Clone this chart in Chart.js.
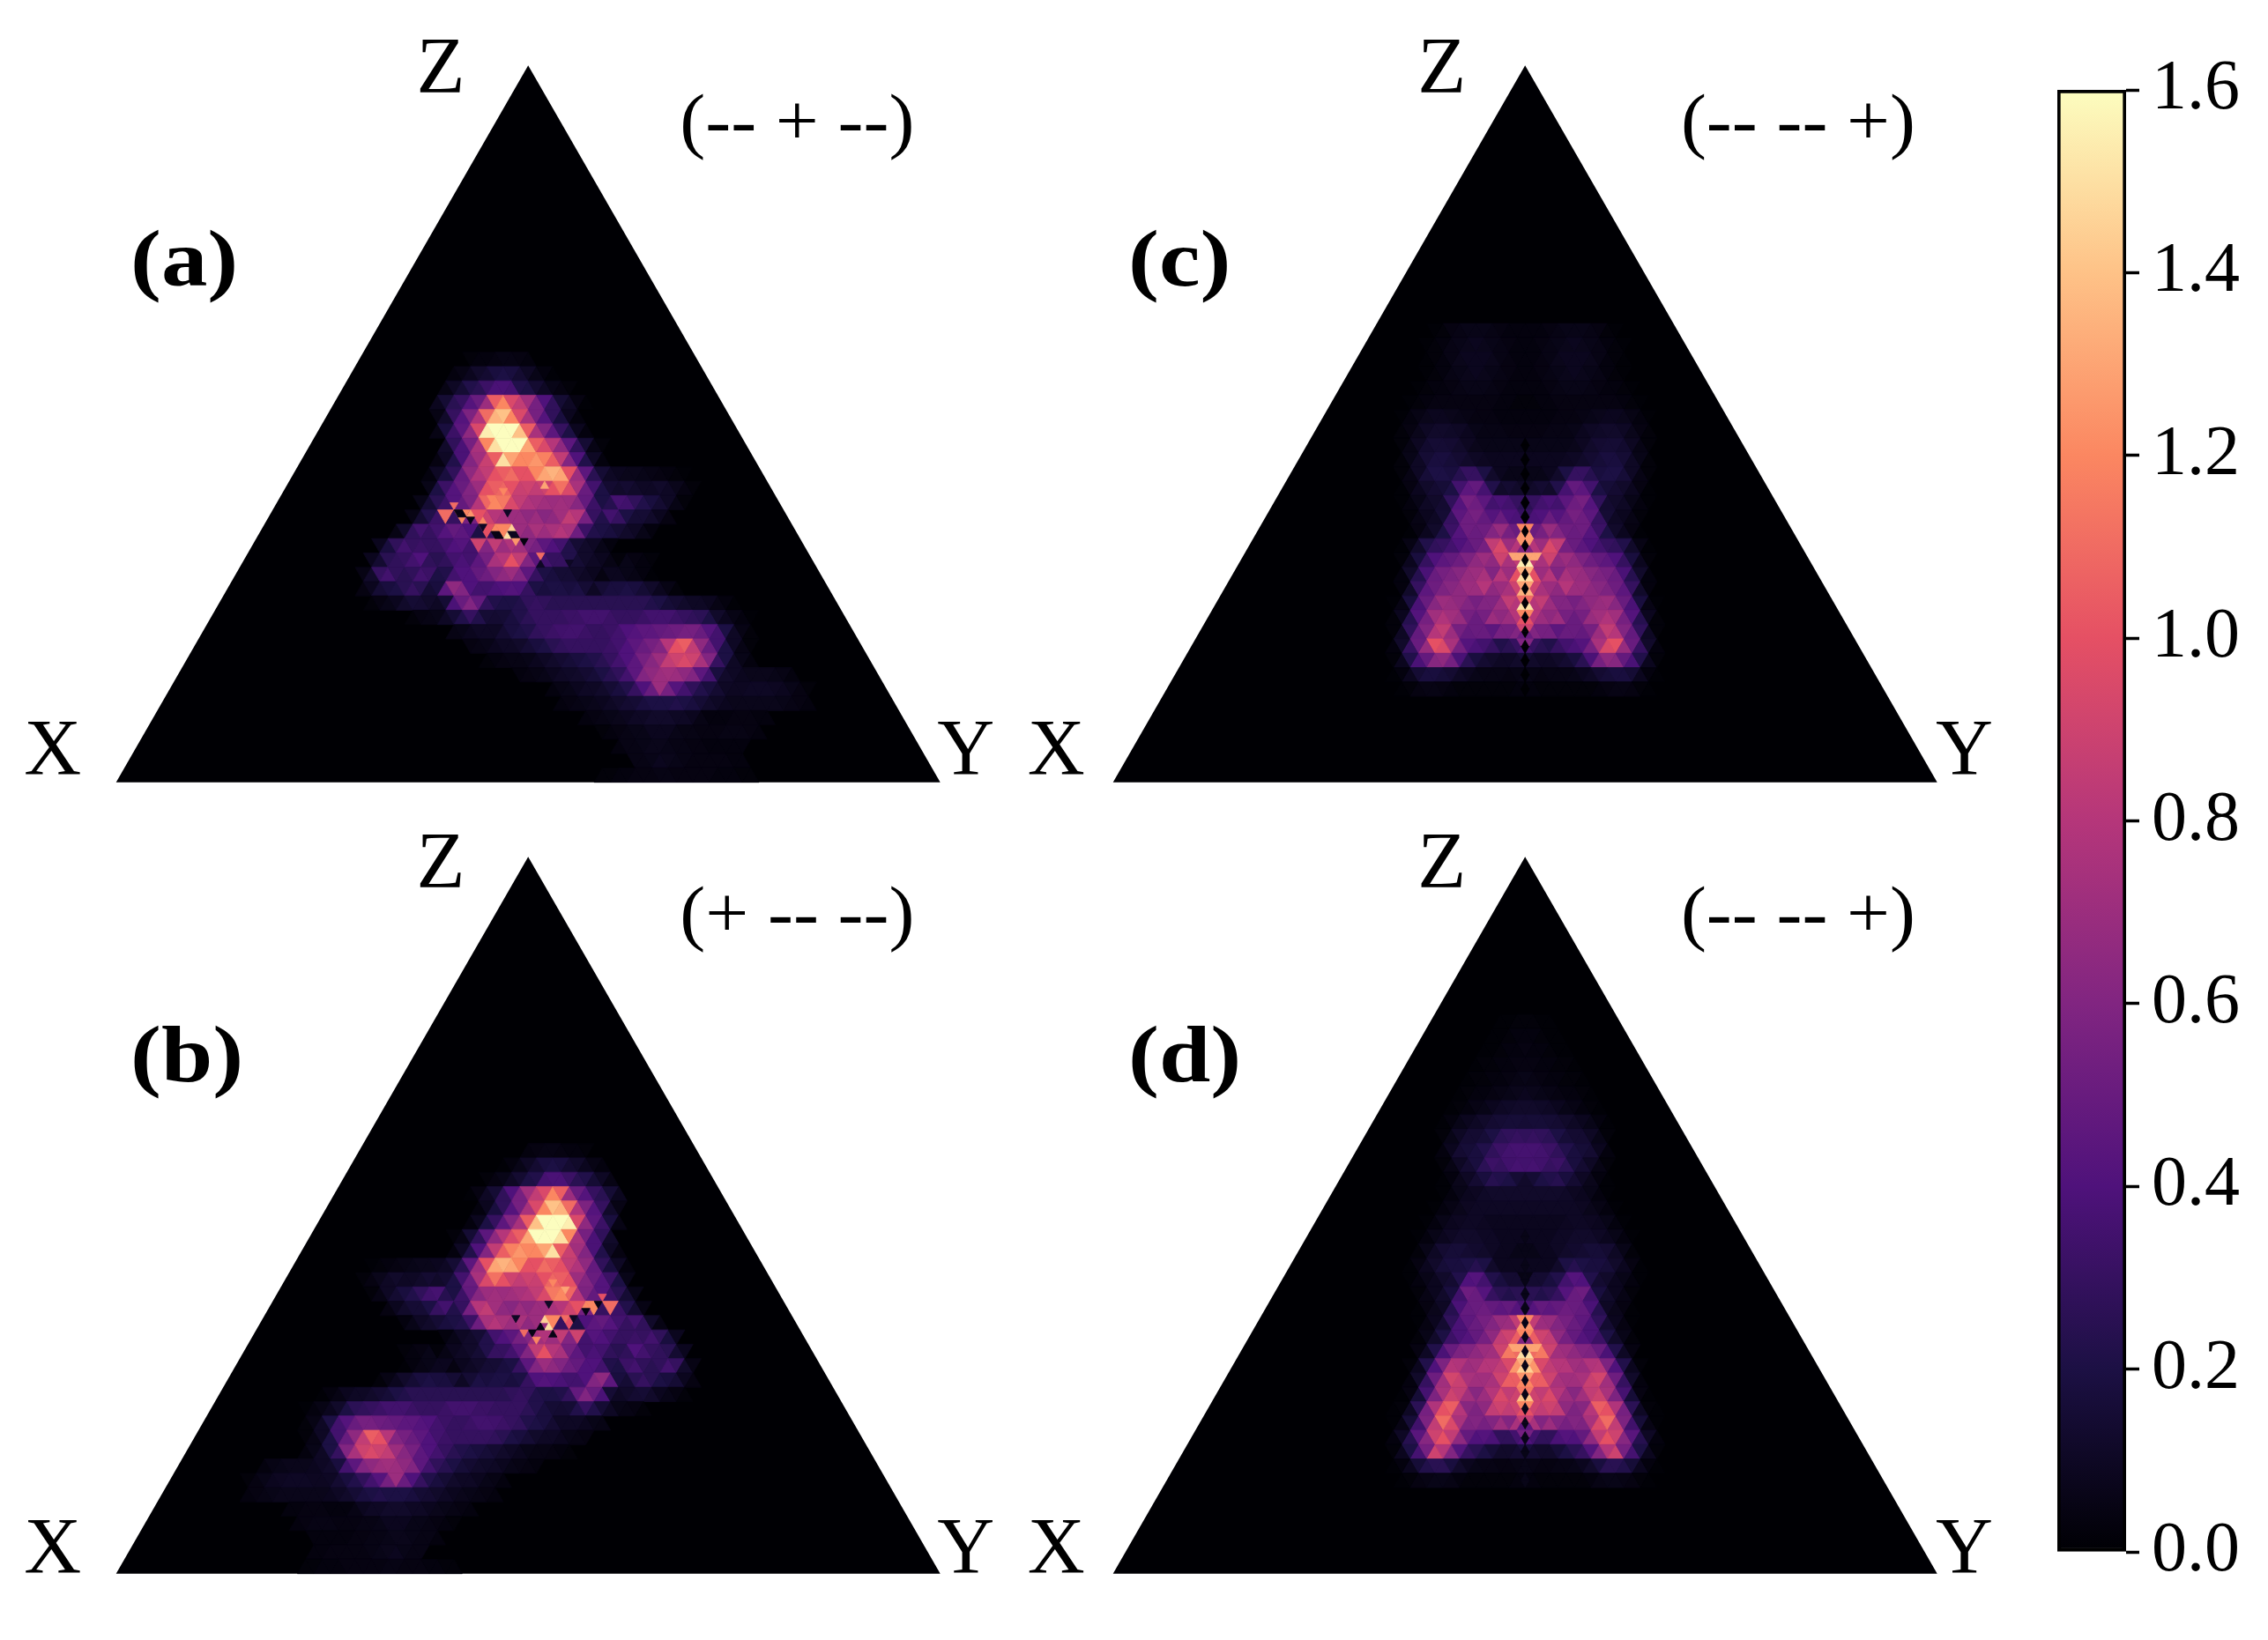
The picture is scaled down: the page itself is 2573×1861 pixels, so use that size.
<!DOCTYPE html>
<html>
<head>
<meta charset="utf-8">
<title>Ternary maps</title>
<script src="https://cdn.jsdelivr.net/npm/chart.js@4"></script>
<style>
html, body { margin: 0; padding: 0; background: #fff; }
body { position: relative; width: 2573px; height: 1861px; overflow: hidden; }
canvas { position: absolute; }
</style>
</head>
<body>
<canvas id="panelA" style="left:0;top:0" width="1180" height="960"></canvas>
<canvas id="panelB" style="left:0;top:898px" width="1180" height="960"></canvas>
<canvas id="panelC" style="left:1131px;top:0" width="1180" height="960"></canvas>
<canvas id="panelD" style="left:1131px;top:898px" width="1180" height="960"></canvas>
<canvas id="colorbar" style="left:2300px;top:0" width="273" height="1861"></canvas>
<script>
// values are in hundredths. a row is [row, first column, values]
// coarse grid has 50 rows, row r has columns -r..r
const rowsA = [
[20,-7,[2,3,3,4,5,5,4,3]],
[21,-9,[3,5,8,12,14,18,20,18,14,10,6,3,1]],
[22,-10,[5,10,15,22,25,32,38,38,36,22,20,14,10,6,4,2]],
[23,-11,[8,15,25,30,42,50,70,105,120,95,85,72,55,40,28,15,10,4,1]],
[24,-11,[5,12,30,42,58,78,110,135,140,120,95,75,55,42,28,18,8,3]],
[25,-11,[5,18,32,45,65,95,155,160,160,160,140,105,75,60,45,30,20,8,3]],
[26,-10,[12,28,38,55,75,120,150,160,160,160,130,105,95,80,65,45,28,15,5,2]],
[27,-11,[4,10,22,38,60,72,88,105,150,130,120,120,125,118,105,85,60,40,22,10,3]],
[28,-12,[3,10,18,28,48,65,78,85,100,105,110,100,100,120,130,135,130,100,70,45,25,15,10,8,7,7,6,5,4,3,2,1]],
[29,-12,[6,20,32,42,50,60,70,100,105,108,100,88,90,85,90,100,112,95,75,50,35,20,14,12,14,12,10,10,12,10,7,4,2]],
[30,-13,[6,15,25,32,42,48,58,80,108,120,115,95,85,78,75,72,70,72,70,62,48,32,20,24,36,34,28,22,18,14,10,5,2]],
[31,-14,[5,14,22,32,110,30,120,55,100,90,80,75,70,70,65,70,62,65,72,85,80,55,30,22,35,30,20,15,15,12,8,4]],
[32,-16,[5,12,28,35,30,35,42,48,45,40,20,100,30,120,70,70,65,75,70,75,80,75,52,32,22,20,18,15,12,10,6,3]],
[33,-18,[8,18,28,35,30,32,30,30,35,40,42,35,90,60,85,70,78,72,60,55,45,40,35,22,15,12,10,6,3]],
[34,-19,[8,14,25,28,30,35,40,28,25,28,35,38,35,45,55,75,80,100,85,60,45,35,30,30,22,15,12,10,8,5,2,6,4,3,2]],
[35,-20,[5,12,30,35,28,25,28,35,32,20,22,35,40,40,48,52,60,65,70,60,45,30,20,18,15,15,12,10,8,4,8,8,6,5,3,1]],
[36,-20,[4,8,15,18,20,25,30,25,15,18,45,65,60,40,35,35,38,40,42,40,30,20,18,20,20,18,20,15,10,15,18,18,20,18,15,12,8,5,2]],
[37,-19,[2,4,6,8,12,15,14,12,10,15,38,50,60,48,28,22,20,20,22,28,30,28,25,25,25,25,25,25,25,25,25,25,25,25,22,20,16,14,12,10,10,8,5,3,1]],
[38,-14,[2,4,5,6,10,15,22,30,22,15,14,15,18,22,26,30,30,30,30,32,32,35,35,35,32,30,30,30,32,35,35,35,32,30,28,26,20,12,8,5,3,1]],
[39,-9,[5,6,8,10,10,10,14,18,20,22,28,30,32,34,35,35,32,30,30,32,35,40,42,45,45,48,50,52,55,55,50,42,35,20,10,5,2]],
[40,-7,[4,5,6,8,10,10,12,15,18,20,25,28,30,30,30,30,30,32,35,40,45,50,55,60,80,100,105,85,65,50,35,20,10,5,2]],
[41,-5,[2,3,4,5,5,6,8,10,12,14,16,18,20,22,25,30,35,40,45,55,62,70,85,90,95,90,75,60,30,20,10,6,3]],
[42,-1,[3,4,5,6,8,10,11,12,14,16,20,24,28,35,45,60,65,70,72,70,65,60,45,35,18,12,10,8,7,7,7,6,5,3]],
[43,3,[3,5,6,8,10,10,12,15,18,22,30,40,50,70,55,42,35,28,22,18,14,10,9,9,10,10,10,9,8,6,4,2]],
[44,4,[3,4,5,6,7,8,10,12,14,15,18,20,20,20,22,20,18,15,12,10,8,7,7,7,7,7,7,6,5,4,3]],
[45,7,[3,4,5,6,7,8,10,10,12,12,12,10,10,8,5,3,3,3,4,4,4,3,3]],
[46,9,[2,3,4,5,6,6,8,8,8,6,5,5,4,4,4,5,5,5,4,3]],
[47,11,[3,5,5,6,7,7,6,5,5,4,4,3,3,3,3,3]],
[48,13,[5,5,6,8,7,6,5,4,4,4,4,4,3,3]],
[49,9,[2,2,3,3,4,4,4,5,5,4,4,4,4,4,3,3,3,2,2]]
];
// right half only (columns 0,1,2..), panels c and d are mirror symmetric
const halfRowsC = [
[18,[3,3,3,4,5,6,6,6,5,4,2,1]],
[19,[3,3,4,5,6,7,8,7,6,5,3,2,1]],
[20,[3,3,4,5,7,8,8,8,7,5,3,2,1]],
[21,[3,3,4,5,6,7,8,7,6,5,3,2,1]],
[22,[3,3,3,4,5,6,6,6,5,4,3,3,2,1]],
[23,[2,2,3,3,4,4,4,4,4,4,4,4,3,2,1]],
[24,[3,3,3,3,4,4,4,5,6,7,8,8,7,5,3,1]],
[25,[4,4,4,5,5,5,6,8,10,11,12,12,10,7,4,2]],
[26,[6,6,6,6,6,6,7,9,12,14,15,15,13,9,5,2]],
[27,[8,8,8,8,8,9,10,12,14,16,18,18,15,10,6,2]],
[28,[6,6,6,8,12,20,30,30,24,18,20,20,16,10,5,2]],
[29,[10,12,14,12,22,36,48,45,35,20,16,14,12,8,4,1]],
[30,[25,30,35,38,35,45,52,55,42,28,14,12,10,6,3,1]],
[31,[30,38,40,50,42,48,55,52,45,30,15,10,8,5,2]],
[32,[40,50,55,68,60,52,50,52,42,32,20,12,8,4,1]],
[33,[60,80,70,95,85,55,50,45,40,35,30,28,22,12,5,1]],
[34,[90,85,75,90,65,70,65,58,52,48,45,40,30,18,8,2]],
[35,[85,100,70,80,60,75,70,68,62,58,55,50,38,24,12,3]],
[36,[90,90,75,70,65,80,70,70,65,62,58,52,45,30,12,3]],
[37,[85,80,85,70,60,60,55,60,65,68,70,62,50,38,18,5,1]],
[38,[90,80,70,65,70,55,50,55,68,72,78,72,55,42,24,8,2]],
[39,[70,60,55,55,45,50,50,48,55,70,85,80,60,48,28,10,2]],
[40,[35,30,25,22,30,35,38,42,55,75,95,100,68,50,30,12,3]],
[41,[15,12,10,10,12,14,18,25,38,55,65,62,48,38,22,8,2]],
[42,[6,5,4,5,5,5,6,8,10,14,16,18,18,15,8,3,1]],
[43,[3,3,2,2,2,2,2,2,2,3,4,5,5,4,2,1]]
];
const halfRowsD = [
[11,[2,2,1,1]],
[12,[3,3,2,1,1]],
[13,[4,3,3,2,1,1]],
[14,[4,4,3,3,2,2,1]],
[15,[6,5,4,3,3,2,2,1]],
[16,[8,7,6,5,4,3,3,2,1]],
[17,[12,12,11,10,8,6,5,3,2,1]],
[18,[15,16,16,15,14,12,10,8,6,3,1]],
[19,[28,30,28,26,20,16,14,14,10,6,2]],
[20,[36,36,35,32,28,22,18,16,14,8,3]],
[21,[35,36,34,30,32,26,18,14,10,5,2]],
[22,[12,15,20,22,24,18,14,10,7,3,1]],
[23,[12,12,12,12,12,11,9,8,6,3,1]],
[24,[10,10,10,10,10,10,10,9,7,5,3,1]],
[25,[8,8,8,8,8,9,10,10,9,8,6,3,1]],
[26,[8,8,8,8,10,10,12,12,12,10,8,6,3,1]],
[27,[6,6,8,8,10,12,13,14,16,16,14,10,6,2]],
[28,[8,8,8,8,12,20,24,20,18,18,16,12,8,4,1]],
[29,[5,14,14,18,22,35,42,40,22,14,12,8,6,3,1]],
[30,[25,25,22,25,30,42,50,52,34,18,12,8,5,2]],
[31,[35,42,48,45,48,52,50,48,38,24,10,7,4,1]],
[32,[70,85,70,68,60,55,50,46,38,28,14,8,4,1]],
[33,[75,105,90,85,65,55,48,42,38,32,20,12,6,2]],
[34,[95,110,115,90,72,70,65,60,58,50,38,22,10,4]],
[35,[100,125,95,85,80,80,72,70,78,80,58,40,22,8,2]],
[36,[110,105,105,90,75,72,72,75,88,92,72,52,30,12,3]],
[37,[95,90,85,95,80,70,62,72,85,90,75,58,36,16,4,1]],
[38,[100,90,85,90,85,65,58,62,80,105,100,78,55,26,10,2,1]],
[39,[70,75,60,70,60,55,60,58,75,95,110,85,58,34,16,5,1]],
[40,[40,35,28,28,38,42,40,48,65,85,100,90,62,44,24,10,3]],
[41,[18,14,12,12,16,20,25,30,42,60,80,90,55,36,20,8,2]],
[42,[6,5,4,4,5,5,6,8,12,18,25,25,22,16,8,3,1]],
[43,[3,3,2,2,2,2,2,2,3,5,6,6,5,4,2,1]]
];
// fine cells on the 100 row grid: [row, column, value]
const fineA = [[61,-18,110],[62,-14,125],[62,-17,5],[62,-16,5],[63,-14,5],[63,-11,120],[64,-8,120],[64,-11,10],[64,-4,145],[65,-5,150],[65,-8,5],[65,-7,5],[65,-3,8],[65,-4,8],[66,-1,3],[66,-3,125],[68,3,110],[69,10,10],[62,-5,10],[60,-9,120],[59,-6,120],[58,4,130],[69,3,10]];
const fineB = [[64,4,145],[65,5,150],[66,1,5],[65,3,5],[66,6,5],[67,2,120],[62,14,120],[62,17,5],[63,14,5],[64,9,110],[64,11,10],[62,5,10],[59,6,120],[60,9,130],[61,18,100],[64,-3,10],[66,-1,110]];
// spine of c and d, column 0 is dark, columns listed are mirrored
const spineRows = [52,53,54,55,56,57,58,59,60,61,62,63,64,65,66,67,68,69,70,71,72,73,74,75,76,77,78,79,80,81,82,83,84,85,86,87];
const fineC = [[64,1,120],[65,1,125],[66,1,125],[67,1,60],[68,1,130],[68,2,130],[68,3,130],[69,1,155],[70,1,135],[71,1,150],[72,1,130],[73,1,135],[74,1,110],[75,1,150],[76,1,120],[77,1,100],[78,1,90],[79,1,50],[80,1,60]];
const fineD = [[64,1,120],[65,1,125],[66,1,120],[67,1,60],[68,1,130],[68,2,130],[68,3,130],[69,1,150],[70,1,135],[71,1,145],[72,1,125],[73,1,120],[74,1,115],[75,1,140],[76,1,120],[77,1,100],[78,1,85],[79,1,45],[80,1,55]];
const spineDarkC = 0;
const spineDarkD = 6;

const barTicks = [0, 0.2, 0.4, 0.6, 0.8, 1.0, 1.2, 1.4, 1.6];
const valueMax = 1.6;
const magma = [[0,0,4],[28,16,68],[79,18,123],[129,37,129],[181,54,122],[229,80,100],[251,135,97],[254,194,135],[252,253,191]];

const serif = '"Liberation Serif", "Times New Roman", serif';
const triangleW = 935, triangleH = 813.5, cornerX = 131.7, cornerY = 887.7;

function magmaColor(t) {
    t = Math.min(1, Math.max(0, t)) * (magma.length - 1);
    const i = Math.min(magma.length - 2, Math.floor(t));
    const f = t - i;
    const c = magma[i].map((v, k) => Math.round(v + (magma[i + 1][k] - v) * f));
    return 'rgb(' + c.join(',') + ')';
}

function cell(r, c, v, n) {
    const up = (r + c) % 2 === 0;
    return { x: 0.5 + c / (2 * n), y: 1 - (r + (up ? 2 / 3 : 1 / 3)) / n, v: v / 100, up: up };
}

function fromRows(rows) {
    const out = [];
    rows.forEach(row => row[2].forEach((v, i) => { if (v > 0) out.push(cell(row[0], row[1] + i, v, 50)); }));
    return out;
}

function fromHalfRows(rows) {
    const out = [];
    rows.forEach(row => row[1].forEach((v, i) => {
        out.push(cell(row[0], i, v, 50));
        if (i > 0) out.push(cell(row[0], -i, v, 50));
    }));
    return out;
}

// panel b reads as panel a flipped left to right
function flipRows(rows) {
    return rows.map(row => [row[0], -(row[1] + row[2].length - 1), row[2].slice().reverse()]);
}

function fromFine(list) {
    return list.map(f => cell(f[0], f[1], f[2], 100));
}

function fromSpine(list, dark) {
    const out = spineRows.map(r => cell(r, 0, dark, 100));
    list.forEach(f => {
        out.push(cell(f[0], f[1], f[2], 100));
        out.push(cell(f[0], -f[1], f[2], 100));
    });
    return out;
}

const panelText = {
    panelA: { tag: '(a)', sign: '(-- + --)', z: [0.394, 0.991], x: [-0.077, 0.04], y: [1.031, 0.04], tagAt: [0.0174, 0.7225], signAt: [0.684, 0.9155] },
    panelB: { tag: '(b)', sign: '(+ -- --)', z: [0.394, 0.986], x: [-0.077, 0.03], y: [1.031, 0.03], tagAt: [0.0174, 0.7155], signAt: [0.684, 0.9146] },
    panelC: { tag: '(c)', sign: '(-- -- +)', z: [0.399, 0.991], x: [-0.069, 0.04], y: [1.033, 0.04], tagAt: [0.0185, 0.7225], signAt: [0.689, 0.9155] },
    panelD: { tag: '(d)', sign: '(-- -- +)', z: [0.399, 0.986], x: [-0.069, 0.03], y: [1.033, 0.03], tagAt: [0.0185, 0.7155], signAt: [0.689, 0.9146] }
};

const panelLabels = {
    id: 'panelLabels',
    afterDatasetsDraw(chart) {
        const t = panelText[chart.canvas.id];
        const sx = chart.scales.x, sy = chart.scales.y, ctx = chart.ctx;
        // the reference lettering is a bit wider than Liberation Serif, hence the stretch
        const put = (text, at, font, align, stretch) => {
            ctx.save();
            ctx.font = font;
            ctx.textAlign = align;
            ctx.textBaseline = 'middle';
            ctx.fillStyle = '#000';
            ctx.translate(sx.getPixelForValue(at[0]), sy.getPixelForValue(at[1]));
            ctx.scale(stretch, 1);
            ctx.fillText(text, 0, 0);
            ctx.restore();
        };
        put('Z', t.z, '90px ' + serif, 'center', 1);
        put('X', t.x, '90px ' + serif, 'center', 1);
        put('Y', t.y, '90px ' + serif, 'center', 1);
        put(t.tag, t.tagAt, 'bold 92px ' + serif, 'left', 1.14);
        put(t.sign, t.signAt, '82px ' + serif, 'left', 1.06);
    }
};

function cellDataset(points, n, order) {
    return {
        data: points,
        order: order,
        showLine: false,
        pointStyle: 'triangle',
        pointRadius: ctx => triangleW / n / Math.sqrt(3),
        pointRotation: ctx => (ctx.raw && !ctx.raw.up ? 180 : 0),
        pointBackgroundColor: ctx => (ctx.raw ? magmaColor(ctx.raw.v / valueMax) : '#000004'),
        pointBorderColor: ctx => (ctx.raw ? magmaColor(ctx.raw.v / valueMax) : '#000004'),
        pointBorderWidth: 0.8
    };
}

function drawPanel(id, coarse, fine) {
    new Chart(document.getElementById(id), {
        type: 'scatter',
        data: {
            datasets: [
                {
                    data: [{ x: 0, y: 0 }, { x: 1, y: 0 }, { x: 0.5, y: 1 }, { x: 0, y: 0 }],
                    order: 3,
                    showLine: true,
                    fill: 'shape',
                    borderWidth: 0,
                    pointRadius: 0,
                    backgroundColor: 'rgb(0,0,4)'
                },
                cellDataset(coarse, 50, 2),
                cellDataset(fine, 100, 1)
            ]
        },
        options: {
            responsive: false,
            animation: false,
            events: [],
            layout: { padding: 0, autoPadding: false },
            plugins: { legend: { display: false }, tooltip: { enabled: false } },
            scales: {
                x: { type: 'linear', display: false, min: -cornerX / triangleW, max: (1180 - cornerX) / triangleW },
                y: { type: 'linear', display: false, min: -(960 - cornerY) / triangleH, max: cornerY / triangleH }
            }
        },
        plugins: [panelLabels]
    });
}

drawPanel('panelA', fromRows(rowsA), fromFine(fineA));
drawPanel('panelB', fromRows(flipRows(rowsA)), fromFine(fineB));
drawPanel('panelC', fromHalfRows(halfRowsC), fromSpine(fineC, spineDarkC));
drawPanel('panelD', fromHalfRows(halfRowsD), fromSpine(fineD, spineDarkD));

new Chart(document.getElementById('colorbar'), {
    type: 'bar',
    data: {
        labels: [''],
        datasets: [{
            data: [[0, valueMax]],
            barPercentage: 1,
            categoryPercentage: 1,
            borderColor: '#000',
            borderWidth: 4,
            borderSkipped: false,
            backgroundColor: ctx => {
                const area = ctx.chart.chartArea;
                if (!area) return '#000';
                const g = ctx.chart.ctx.createLinearGradient(0, area.bottom, 0, area.top);
                magma.forEach((c, i) => g.addColorStop(i / (magma.length - 1), 'rgb(' + c.join(',') + ')'));
                return g;
            }
        }]
    },
    options: {
        responsive: false,
        animation: false,
        events: [],
        layout: { padding: { left: 34, right: 0, top: 102, bottom: 100 } },
        plugins: { legend: { display: false }, tooltip: { enabled: false } },
        scales: {
            x: { display: false },
            y: {
                position: 'right',
                min: 0,
                max: valueMax,
                afterFit: s => { s.width = 161; },
                afterBuildTicks: s => { s.ticks = barTicks.map(v => ({ value: v })); },
                border: { display: false },
                grid: { drawOnChartArea: false, drawTicks: true, tickLength: 15, tickWidth: 3.5, tickColor: '#000' },
                ticks: {
                    autoSkip: false,
                    padding: 14,
                    color: '#000',
                    font: { family: serif, size: 80 },
                    callback: v => v.toFixed(1)
                }
            }
        }
    }
});
</script>
</body>
</html>
